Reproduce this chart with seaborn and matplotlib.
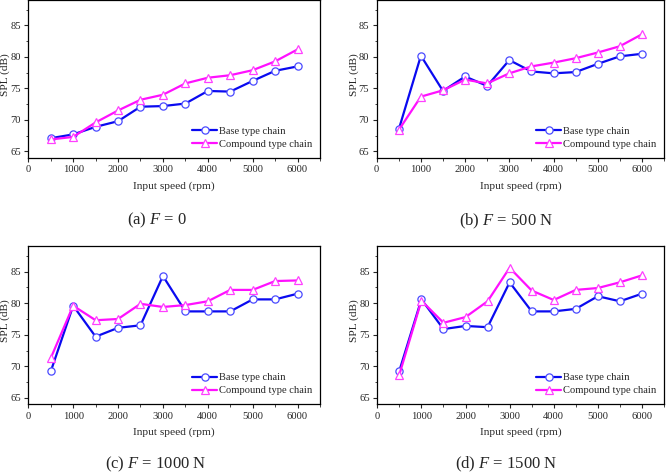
import matplotlib
matplotlib.use("Agg")
import matplotlib.pyplot as plt
import seaborn as sns
import numpy as np
import pandas as pd
from matplotlib.ticker import MultipleLocator

speed = [500, 1000, 1500, 2000, 2500, 3000, 3500, 4000, 4500, 5000, 5500, 6000]

base_a = [67.1, 67.7, 68.9, 69.8, 72.1, 72.2, 72.6, 74.6, 74.5, 76.2, 77.8, 78.5]
comp_a = [66.9, 67.3, 69.6, 71.5, 73.2, 74.0, 75.8, 76.7, 77.1, 77.9, 79.3, 81.2]

base_b = [68.5, 80.2, 74.6, 76.9, 75.4, 79.5, 77.7, 77.4, 77.6, 78.9, 80.1, 80.5]
comp_b = [68.4, 73.7, 74.7, 76.4, 75.8, 77.4, 78.5, 79.1, 79.8, 80.7, 81.7, 83.6]

base_c = [69.2, 79.6, 74.7, 76.1, 76.5, 84.3, 78.7, 78.7, 78.7, 80.6, 80.6, 81.5]
comp_c = [71.3, 79.6, 77.3, 77.5, 79.9, 79.4, 79.7, 80.3, 82.1, 82.1, 83.5, 83.6]

base_d = [69.3, 80.6, 75.9, 76.4, 76.2, 83.3, 78.7, 78.7, 79.1, 81.1, 80.3, 81.5]
comp_d = [68.7, 80.4, 76.9, 77.8, 80.3, 85.6, 82.0, 80.5, 82.1, 82.4, 83.3, 84.4]

captions = ["(a) $\\mathit{F}$ = 0", "(b) $\\mathit{F}$ = 500 N",
            "(c) $\\mathit{F}$ = 1000 N", "(d) $\\mathit{F}$ = 1500 N"]
series_names = ["Base type chain", "Compound type chain"]

sns.set_style("white")
plt.rcParams['font.family'] = ['Liberation Serif', 'DejaVu Serif']
plt.rcParams['mathtext.fontset'] = 'custom'
plt.rcParams['mathtext.rm'] = 'Liberation Serif'
plt.rcParams['mathtext.it'] = 'Liberation Serif:italic'

W, H = 668, 475
fig = plt.figure(figsize=(W / 100, H / 100), dpi=100)

# axes boxes in pixels: left, top, right, bottom
boxes = [
    (28.3, 0.3, 320.0, 157.7),
    (376.7, 0.3, 664.0, 157.7),
    (28.3, 246.3, 320.0, 404.3),
    (377.3, 246.3, 664.0, 404.3),
]
caption_pos = [(157, 220), (506, 221), (156, 464.5), (506, 464.5)]
data = [(base_a, comp_a), (base_b, comp_b), (base_c, comp_c), (base_d, comp_d)]

blue = "#0a0af0"
magenta = "#ff10ff"

for i, (box, (b, c)) in enumerate(zip(boxes, data)):
    l, t, r, btm = box
    ax = fig.add_axes([l / W, 1 - btm / H, (r - l) / W, (btm - t) / H])
    df = pd.DataFrame({"speed": speed, "base": b, "comp": c})
    sns.lineplot(data=df, x="speed", y="base", ax=ax, color=blue, lw=1.6,
                 marker="o", ms=5.2, mfc="white", mec="#4a4aff", mew=0.9,
                 label=series_names[0])
    sns.lineplot(data=df, x="speed", y="comp", ax=ax, color=magenta, lw=1.6,
                 marker="^", ms=6.0, mfc="white", mec="#ff40ff", mew=0.9,
                 label=series_names[1])
    ax.set_xlim(0, 6500)
    ax.set_ylim(64, 89)
    ax.set_xticks(range(0, 7000, 1000))
    ax.set_yticks([65, 70, 75, 80, 85])
    ax.xaxis.set_minor_locator(MultipleLocator(500))
    ax.yaxis.set_minor_locator(MultipleLocator(2.5))
    ax.tick_params(which="major", direction="out", length=3, width=0.8,
                   labelsize=7.6, pad=2.5, bottom=True, left=True)
    ax.tick_params(which="minor", direction="out", length=1.8, width=0.6,
                   bottom=True, left=True)
    for s in ax.spines.values():
        s.set_visible(True)
        s.set_color("black")
        s.set_linewidth(0.9)
    ax.set_xlabel("Input speed (rpm)", fontsize=8.2)
    ax.set_ylabel("SPL (dB)", fontsize=8.2)
    axw = r - l
    axh = btm - t
    ax.xaxis.set_label_coords(0.5, -(181.0 - 157.7) / axh)
    ax.yaxis.set_label_coords(-18.0 / axw, 0.53)
    ax.legend(loc="lower right", frameon=False, fontsize=7.6,
              handlelength=2.3, handletextpad=0.25, labelspacing=0.35,
              borderaxespad=0.3, bbox_to_anchor=(1.0, 0.01))
    cx, cy = caption_pos[i]
    fig.text(cx / W, 1 - cy / H, captions[i], ha="center", va="center", fontsize=12)

fig.savefig("out.png", dpi=100)
